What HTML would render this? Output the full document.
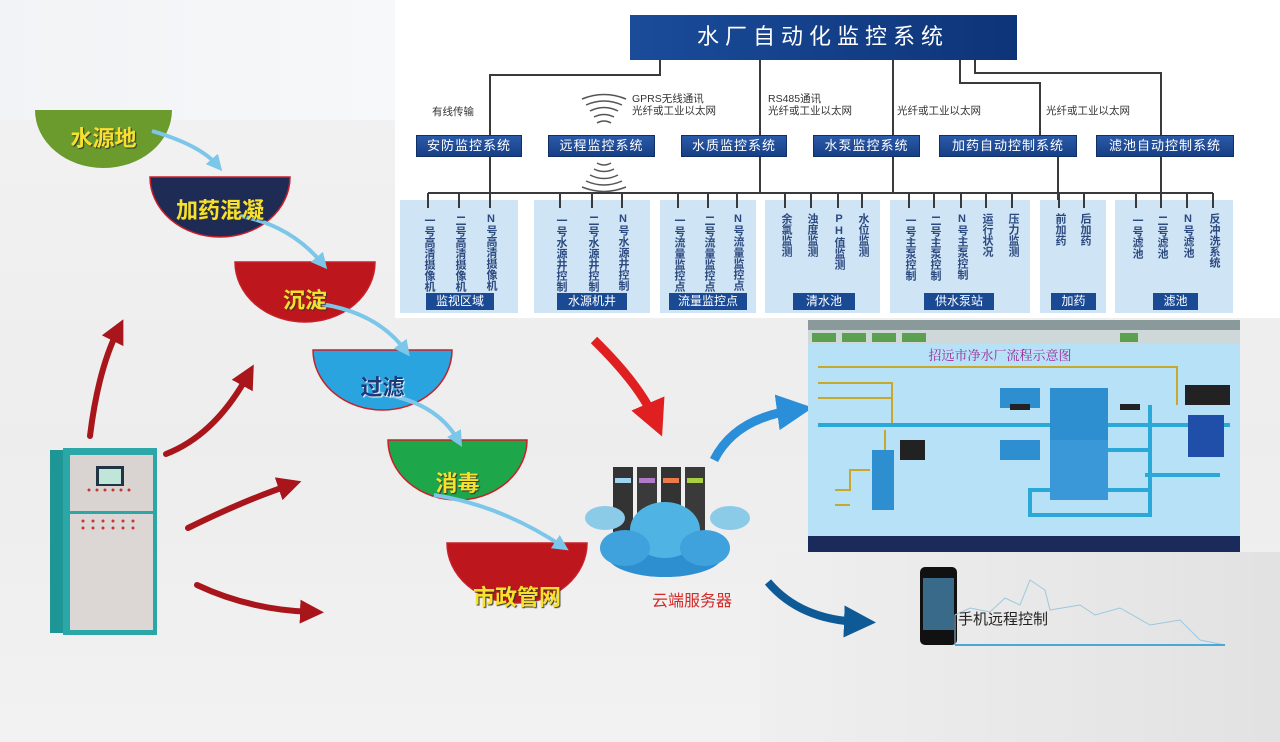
<!DOCTYPE html>
<html><head><meta charset="utf-8"><style>
body{margin:0;width:1280px;height:742px;overflow:hidden;position:relative;background:linear-gradient(180deg,#f3f3f3 0%,#ededed 60%,#f2f2f2 100%);font-family:"Liberation Sans","Noto Sans CJK SC",sans-serif}
.a{position:absolute}
.vt{position:absolute;writing-mode:vertical-rl;text-orientation:upright;font-size:11px;line-height:11px;color:#2c4a80;font-weight:bold}
.sb{position:absolute;height:20px;background:linear-gradient(#2a5aa8,#173f86);color:#fff;font-size:13px;line-height:20px;text-align:center;border:1px solid #0f2f66;letter-spacing:1px}
.gb{position:absolute;height:17px;top:293px;background:#1b4a94;color:#fff;font-size:12px;line-height:17px;text-align:center}
.lb{position:absolute;font-size:10.5px;color:#333;line-height:12px}
.bw{position:absolute;color:#f6e12e;font-weight:bold;font-size:22px;text-align:center;text-shadow:1px 1px 1px #333}
</style></head><body>
<div class="a" style="left:395px;top:0;width:885px;height:318px;background:#fff"></div>
<div class="a" style="left:0;top:0;width:395px;height:120px;background:linear-gradient(90deg,#f1f3f6,#f7f8f9)"></div>
<div class="a" style="left:760px;top:552px;width:520px;height:190px;background:linear-gradient(90deg,#efefef,#e2e2e2)"></div>

<svg class="a" style="left:0;top:0" width="1280" height="742">
<defs>
<marker id="mb" markerWidth="4" markerHeight="4" refX="2" refY="2" orient="auto"><path d="M0,0 L4,2 L0,4 z" fill="#7cc6ea"/></marker>
<marker id="mr" markerWidth="4" markerHeight="4" refX="2" refY="2" orient="auto"><path d="M0,0 L4,2 L0,4 z" fill="#a8161c"/></marker>
<marker id="mr2" markerWidth="4" markerHeight="4" refX="2" refY="2" orient="auto"><path d="M0,0 L4,2 L0,4 z" fill="#e02020"/></marker>
<marker id="mbl" markerWidth="4" markerHeight="4" refX="2" refY="2" orient="auto"><path d="M0,0 L4,2 L0,4 z" fill="#2a8fd8"/></marker>
<marker id="mdb" markerWidth="4" markerHeight="4" refX="2" refY="2" orient="auto"><path d="M0,0 L4,2 L0,4 z" fill="#0e5a96"/></marker>
<linearGradient id="tg" x1="0" x2="1"><stop offset="0" stop-color="#1a4c9a"/><stop offset="1" stop-color="#0e3478"/></linearGradient>
</defs>
<rect x="630" y="15" width="387" height="45" fill="url(#tg)"/>
<g stroke="#3a3a3a" stroke-width="2" fill="none">
<path d="M660 60 V75 H490 V193"/>
<path d="M760 60 V193"/>
<path d="M893 60 V193"/>
<path d="M960 60 V83 H1040 V135 M1058 155 V200"/>
<path d="M975 60 V73 H1161 V200"/>
<path d="M428 193 H1213"/>
</g>
<g fill="#cfe4f4">
<rect x="400" y="200" width="118" height="113"/><rect x="534" y="200" width="116" height="113"/>
<rect x="660" y="200" width="96" height="113"/><rect x="765" y="200" width="115" height="113"/>
<rect x="890" y="200" width="140" height="113"/><rect x="1040" y="200" width="66" height="113"/>
<rect x="1115" y="200" width="118" height="113"/>
</g>
<g stroke="#3a3a3a" stroke-width="2">
<path d="M428 193V208 M459 193V208 M490 193V208 M560 193V208 M592 193V208 M622 193V208 M678 193V208 M708 193V208 M737 193V208 M785 193V208 M811 193V208 M838 193V208 M862 193V208 M909 193V208 M934 193V208 M961 193V208 M986 193V208 M1012 193V208 M1059 193V208 M1084 193V208 M1136 193V208 M1161 193V208 M1187 193V208 M1213 193V208"/>
</g>
<g stroke="#555" stroke-width="1.5" fill="none">
<path d="M582 99 Q604 90 626 99"/><path d="M586 105 Q604 97 622 105"/><path d="M590 111 Q604 104 618 111"/><path d="M594 117 Q604 112 614 117"/><path d="M597 123 Q604 119 611 123"/>
<path d="M597 163 Q604 167 611 163"/><path d="M594 169 Q604 174 614 169"/><path d="M590 175 Q604 182 618 175"/><path d="M586 181 Q604 189 622 181"/><path d="M582 187 Q604 196 626 187"/>
</g>

<g stroke="#c8202a" stroke-width="1.5">
<path d="M35 110 H172 A68.5 58 0 0 1 35 110 Z" fill="#6b9b2c" stroke="none"/>
<path d="M150 177 H290 A70 60 0 0 1 150 177 Z" fill="#1e2b55"/>
<path d="M235 262 H375 A70 60 0 0 1 235 262 Z" fill="#be161d"/>
<path d="M313 350 H452 A69.5 60 0 0 1 313 350 Z" fill="#2aa4de"/>
<path d="M388 440 H527 A69.5 60 0 0 1 388 440 Z" fill="#1ea64b"/>
<path d="M447 543 H587 A70 60 0 0 1 447 543 Z" fill="#be161d"/>
</g>
<g stroke="#7cc6ea" stroke-width="4" fill="none" marker-end="url(#mb)">
<path d="M152 131 Q200 145 217 165"/>
<path d="M240 216 Q290 225 322 263"/>
<path d="M313 303 Q375 310 405 350"/>
<path d="M375 393 Q435 400 458 440"/>
<path d="M434 495 Q500 505 562 546"/>
</g>
<g stroke="#a8161c" stroke-width="6" fill="none" stroke-linecap="round" marker-end="url(#mr)">
<path d="M90 436 Q98 370 118 330"/>
<path d="M166 454 Q215 435 248 375"/>
<path d="M188 528 Q245 500 290 485"/>
<path d="M197 585 Q250 610 312 612"/>
</g>
<path d="M594 340 Q640 385 655 420" stroke="#e02020" stroke-width="9" fill="none" marker-end="url(#mr2)"/>
<path d="M714 460 Q735 418 795 410" stroke="#2a8fd8" stroke-width="9" fill="none" marker-end="url(#mbl)"/>
<path d="M768 582 Q800 620 860 622" stroke="#0e5a96" stroke-width="8" fill="none" marker-end="url(#mdb)"/>

<rect x="50" y="450" width="13" height="183" fill="#1f9696"/>
<rect x="63" y="448" width="94" height="187" fill="#2aa7a6"/>
<rect x="70" y="455" width="83" height="56" fill="#d9d4d2"/>
<rect x="70" y="514" width="83" height="116" fill="#dcd6d4"/>
<rect x="96" y="466" width="28" height="20" fill="#234"/><rect x="99" y="469" width="22" height="15" fill="#bfe6d8"/>
<g fill="#c33"><circle cx="89" cy="490" r="1.5"/><circle cx="97" cy="490" r="1.5"/><circle cx="105" cy="490" r="1.5"/><circle cx="113" cy="490" r="1.5"/><circle cx="121" cy="490" r="1.5"/><circle cx="129" cy="490" r="1.5"/>
<circle cx="83" cy="521" r="1.5"/><circle cx="93" cy="521" r="1.5"/><circle cx="103" cy="521" r="1.5"/><circle cx="113" cy="521" r="1.5"/><circle cx="123" cy="521" r="1.5"/><circle cx="133" cy="521" r="1.5"/>
<circle cx="83" cy="528" r="1.5"/><circle cx="93" cy="528" r="1.5"/><circle cx="103" cy="528" r="1.5"/><circle cx="113" cy="528" r="1.5"/><circle cx="123" cy="528" r="1.5"/><circle cx="133" cy="528" r="1.5"/></g>

<g>
<rect x="613" y="467" width="20" height="65" fill="#333"/><rect x="637" y="467" width="20" height="65" fill="#3a3a3a"/><rect x="661" y="467" width="20" height="65" fill="#333"/><rect x="685" y="467" width="20" height="65" fill="#3a3a3a"/>
<rect x="615" y="478" width="16" height="5" fill="#9fd3ee"/><rect x="639" y="478" width="16" height="5" fill="#b07ac8"/><rect x="663" y="478" width="16" height="5" fill="#ee7a4a"/><rect x="687" y="478" width="16" height="5" fill="#a8d040"/>
<ellipse cx="605" cy="518" rx="20" ry="12" fill="#8ccbe8"/><ellipse cx="730" cy="518" rx="20" ry="12" fill="#8ccbe8"/>
<ellipse cx="665" cy="555" rx="58" ry="22" fill="#2e8fd0"/><ellipse cx="665" cy="530" rx="35" ry="28" fill="#4fb3e4"/>
<ellipse cx="625" cy="548" rx="25" ry="18" fill="#3fa2dc"/><ellipse cx="705" cy="548" rx="25" ry="18" fill="#3fa2dc"/>
</g>

<rect x="808" y="320" width="432" height="232" fill="#b6e1f6"/>
<rect x="808" y="320" width="432" height="10" fill="#8a9a9a"/>
<rect x="808" y="330" width="432" height="14" fill="#cfd8d8"/>
<g fill="#5aa050"><rect x="812" y="333" width="24" height="9"/><rect x="842" y="333" width="24" height="9"/><rect x="872" y="333" width="24" height="9"/><rect x="902" y="333" width="24" height="9"/><rect x="1120" y="333" width="18" height="9"/></g>
<rect x="808" y="536" width="432" height="16" fill="#1a2a5a"/>
<g stroke="#c8a82a" stroke-width="2" fill="none"><path d="M818 367 H1177 V405 M818 383 H892 V425 M818 398 H892"/><path d="M835 490 H850 V470 H870 M835 505 H850 M885 470 V430"/></g>
<g stroke="#2aa8d8" stroke-width="4" fill="none"><path d="M818 425 H1150 M1060 425 V410 M1060 425 V450 H1150 M1150 405 V470 M1145 475 H1220 M1150 470 V490 H1030 V515 H1150 V490 M1150 425 H1230"/></g>
<g fill="#2e8fd0"><rect x="1050" y="388" width="58" height="60"/><rect x="1050" y="440" width="58" height="60" fill="#3a98d8"/><rect x="1000" y="388" width="40" height="20"/><rect x="1000" y="440" width="40" height="20"/><rect x="1188" y="415" width="36" height="42" fill="#1f4fa8"/><rect x="872" y="450" width="22" height="60"/></g>
<g fill="#222"><rect x="1010" y="404" width="20" height="6"/><rect x="1120" y="404" width="20" height="6"/><rect x="900" y="440" width="25" height="20"/><rect x="1185" y="385" width="45" height="20"/></g>

<rect x="920" y="567" width="37" height="78" rx="5" fill="#111"/>
<rect x="923" y="578" width="31" height="52" fill="#3a6a8a"/>
<path d="M955 645 V615 L970 608 L990 612 L1005 598 L1020 605 L1030 580 L1045 590 L1050 610 L1080 605 L1095 615 L1120 608 L1150 625 L1180 620 L1200 640 L1225 645" stroke="#9cc8e0" stroke-width="1" fill="none"/>
<path d="M955 645 H1225" stroke="#4aa8d8" stroke-width="2"/>

<text x="823" y="44" fill="#fff" font-size="22" text-anchor="middle" letter-spacing="6" font-family="Liberation Sans,Noto Sans CJK SC,sans-serif">水厂自动化监控系统</text>
<text x="1000" y="360" fill="#9a2a9a" font-size="13" text-anchor="middle" font-family="Noto Serif CJK SC,serif">招远市净水厂流程示意图</text>
<text x="692" y="606" fill="#d42a2a" font-size="16" text-anchor="middle" font-family="Liberation Sans,Noto Sans CJK SC,sans-serif">云端服务器</text>
<text x="958" y="624" fill="#222" font-size="15" font-family="Liberation Sans,Noto Sans CJK SC,sans-serif">手机远程控制</text>
</svg>

<div class="lb" style="left:432px;top:106px">有线传输</div>
<div class="lb" style="left:632px;top:93px">GPRS无线通讯<br>光纤或工业以太网</div>
<div class="lb" style="left:768px;top:93px">RS485通讯<br>光纤或工业以太网</div>
<div class="lb" style="left:897px;top:105px">光纤或工业以太网</div>
<div class="lb" style="left:1046px;top:105px">光纤或工业以太网</div>

<div class="sb" style="left:416px;top:135px;width:104px">安防监控系统</div>
<div class="sb" style="left:548px;top:135px;width:105px">远程监控系统</div>
<div class="sb" style="left:681px;top:135px;width:104px">水质监控系统</div>
<div class="sb" style="left:813px;top:135px;width:105px">水泵监控系统</div>
<div class="sb" style="left:939px;top:135px;width:136px">加药自动控制系统</div>
<div class="sb" style="left:1096px;top:135px;width:136px">滤池自动控制系统</div>

<div class="vt" style="left:423px;top:215px">一号高清摄像机</div>
<div class="vt" style="left:454px;top:215px">二号高清摄像机</div>
<div class="vt" style="left:485px;top:213px">N号高清摄像机</div>
<div class="vt" style="left:555px;top:215px">一号水源井控制</div>
<div class="vt" style="left:587px;top:215px">二号水源井控制</div>
<div class="vt" style="left:617px;top:213px">N号水源井控制</div>
<div class="vt" style="left:673px;top:215px">一号流量监控点</div>
<div class="vt" style="left:703px;top:215px">二号流量监控点</div>
<div class="vt" style="left:732px;top:213px">N号流量监控点</div>
<div class="vt" style="left:780px;top:213px">余氯监测</div>
<div class="vt" style="left:806px;top:213px">浊度监测</div>
<div class="vt" style="left:833px;top:213px">PH值监测</div>
<div class="vt" style="left:857px;top:213px">水位监测</div>
<div class="vt" style="left:904px;top:215px">一号主泵控制</div>
<div class="vt" style="left:929px;top:215px">二号主泵控制</div>
<div class="vt" style="left:956px;top:213px">N号主泵控制</div>
<div class="vt" style="left:981px;top:213px">运行状况</div>
<div class="vt" style="left:1007px;top:213px">压力监测</div>
<div class="vt" style="left:1054px;top:213px">前加药</div>
<div class="vt" style="left:1079px;top:213px">后加药</div>
<div class="vt" style="left:1131px;top:215px">一号滤池</div>
<div class="vt" style="left:1156px;top:215px">二号滤池</div>
<div class="vt" style="left:1182px;top:213px">N号滤池</div>
<div class="vt" style="left:1208px;top:213px">反冲洗系统</div>

<div class="gb" style="left:426px;width:68px">监视区域</div>
<div class="gb" style="left:557px;width:70px">水源机井</div>
<div class="gb" style="left:669px;width:78px">流量监控点</div>
<div class="gb" style="left:793px;width:62px">清水池</div>
<div class="gb" style="left:924px;width:70px">供水泵站</div>
<div class="gb" style="left:1051px;width:45px">加药</div>
<div class="gb" style="left:1153px;width:45px">滤池</div>

<div class="bw" style="left:35px;top:121px;width:137px">水源地</div>
<div class="bw" style="left:150px;top:193px;width:140px">加药混凝</div>
<div class="bw" style="left:235px;top:283px;width:140px">沉淀</div>
<div class="bw" style="left:313px;top:370px;width:139px;color:#1a3a7a;text-shadow:1px 1px 1px #fff">过滤</div>
<div class="bw" style="left:388px;top:466px;width:139px">消毒</div>
<div class="bw" style="left:447px;top:580px;width:140px">市政管网</div>
</body></html>
